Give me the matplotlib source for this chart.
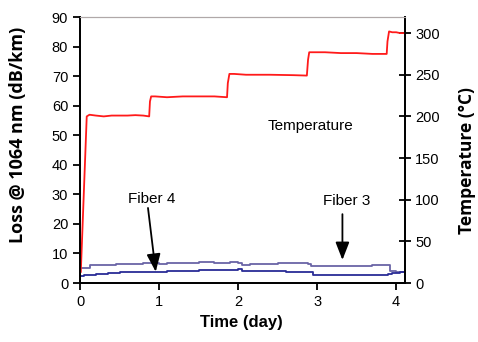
import matplotlib.pyplot as plt

plt.rcParams['font.family'] = ['Liberation Sans', 'DejaVu Sans']

# temperature (right axis, deg C)
temp_t = [0.0, 0.01, 0.085, 0.12, 0.2, 0.3, 0.4, 0.5, 0.6, 0.7, 0.8, 0.875,
          0.885, 0.9, 0.95, 1.1, 1.3, 1.5, 1.7, 1.86,
          1.87, 1.89, 1.95, 2.1, 2.4, 2.7, 2.87,
          2.885, 2.9, 2.95, 3.1, 3.3, 3.5, 3.7, 3.88,
          3.89, 3.91, 3.95, 4.0, 4.05, 4.11]
temp_c = [13, 13, 200, 202, 201, 200, 201, 201, 201, 201.5, 201, 200,
          218, 224, 224, 223, 224, 224, 224, 223,
          240, 251, 251, 250, 250, 249.5, 249,
          268, 277, 277, 277, 276, 276, 275, 275,
          290, 302, 301, 301, 300, 300]

# loss of the two fibers (left axis, dB/km)
f_upper_t = [0.01, 0.1, 0.12, 0.3, 0.45, 0.6, 0.8, 1.0, 1.1, 1.3, 1.5, 1.7, 1.9, 2.0,
             2.05, 2.15, 2.3, 2.5, 2.7, 2.88, 2.92, 3.1, 3.3, 3.5, 3.7, 3.88, 3.92, 4.0, 4.11]
f_upper = [5.0, 5.0, 6.0, 6.1, 6.4, 6.6, 6.7, 6.6, 6.9, 6.8, 7.0, 6.9, 7.0, 6.9,
           6.2, 6.4, 6.6, 6.8, 6.7, 6.6, 5.9, 5.8, 5.9, 5.8, 6.0, 6.0, 4.2, 3.7, 4.3]
f_lower_t = [0.01, 0.05, 0.2, 0.35, 0.5, 0.7, 0.9, 1.1, 1.3, 1.5, 1.7, 1.9, 2.0, 2.05,
             2.2, 2.4, 2.6, 2.8, 2.9, 2.95, 3.1, 3.3, 3.5, 3.7, 3.9, 3.95, 4.05, 4.11]
f_lower = [2.4, 2.8, 3.1, 3.3, 3.6, 3.7, 3.8, 4.0, 4.2, 4.3, 4.3, 4.5, 4.7, 4.0,
           4.1, 3.9, 3.6, 3.7, 3.6, 2.8, 2.7, 2.6, 2.7, 2.8, 3.0, 3.4, 3.8, 4.3]

fig = plt.figure(figsize=(4.78, 3.42), dpi=100)
ax = fig.add_axes([0.1674, 0.1725, 0.6796, 0.7775])
ax2 = ax.twinx()

ax.plot(f_upper_t, f_upper, color='#6a64a6', lw=1.3, drawstyle='steps-post')
ax.plot(f_lower_t, f_lower, color='#2a2c96', lw=1.3, drawstyle='steps-post')
ax2.plot(temp_t, temp_c, color='#ff1a1a', lw=1.3)

ax.set_xlim(0, 4.11)
ax.set_ylim(0, 90)
ax2.set_ylim(0, 319.2)
ax.set_xticks([0, 1, 2, 3, 4])
ax.set_yticks(range(0, 91, 10))
ax2.set_yticks(range(0, 301, 50))

for a in (ax, ax2):
    a.spines['top'].set_color('#b0a8a8')
    a.spines['left'].set_linewidth(1.3)
    a.spines['right'].set_linewidth(1.3)
    a.spines['bottom'].set_linewidth(1.3)
ax.tick_params(axis='both', labelsize=10.5, width=1.3, length=5, direction='out')
ax2.tick_params(axis='y', labelsize=10.5, width=1.3, length=8, direction='inout')

ax.set_xlabel('Time (day)', fontsize=12, fontweight='bold')
ax.xaxis.set_label_coords(0.497, -0.147)
ax.xaxis.label.set_va('center')
ax.set_ylabel('Loss @ 1064 nm (dB/km)', fontsize=13, fontweight='bold',
              family=['Open Sans', 'DejaVu Sans'])
ax.yaxis.set_label_coords(-0.191, 0.556)
ax.yaxis.label.set_va('center')
ax2.set_ylabel('Temperature (°C)', fontsize=12.5, fontweight='bold',
               family=['Open Sans', 'DejaVu Sans'])
ax2.yaxis.set_label_coords(1.19, 0.462)
ax2.yaxis.label.set_va('center')

ax.text(2.91, 53.1, 'Temperature', fontsize=11, ha='center', va='center')
ax.text(0.91, 28.4, 'Fiber 4', fontsize=11, ha='center', va='center')
ax.text(3.38, 27.8, 'Fiber 3', fontsize=11, ha='center', va='center')
arrow = dict(arrowstyle='-|>,head_length=0.9,head_width=0.35', color='black', lw=1.3,
             shrinkA=0, shrinkB=0, mutation_scale=12)
ax.annotate('', xy=(0.958, 3.8), xytext=(0.86, 25.4), arrowprops=arrow)
ax.annotate('', xy=(3.32, 7.8), xytext=(3.32, 23.3), arrowprops=arrow)

fig.savefig('out.png', dpi=100)
